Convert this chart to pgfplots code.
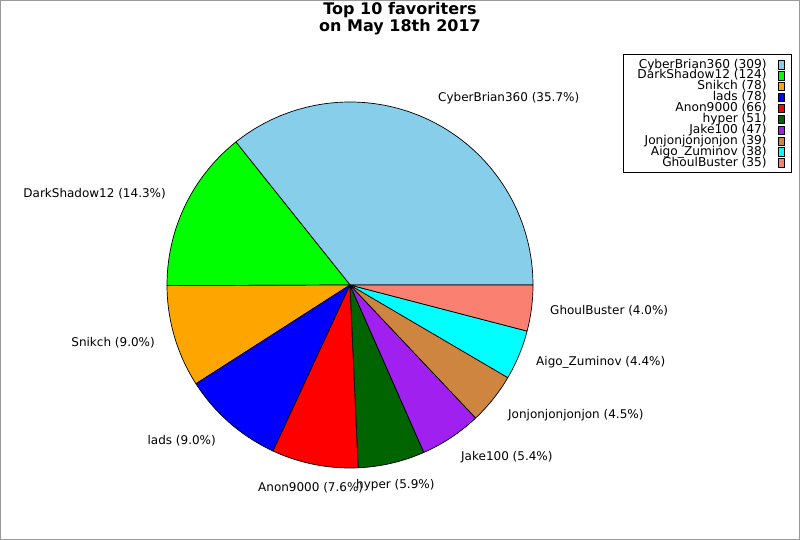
\documentclass[border=0pt]{standalone}
\usepackage{fontspec}
\setmainfont{DejaVu Sans}
\usepackage{pgfplots}
\pgfplotsset{compat=1.18}

\definecolor{cSky}{HTML}{87CEEB}
\definecolor{cLime}{HTML}{00FF00}
\definecolor{cOrange}{HTML}{FFA500}
\definecolor{cBlue}{HTML}{0000FF}
\definecolor{cRed}{HTML}{FF0000}
\definecolor{cDGreen}{HTML}{006400}
\definecolor{cPurple}{HTML}{A020F0}
\definecolor{cPeru}{HTML}{CD853F}
\definecolor{cCyan}{HTML}{00FFFF}
\definecolor{cSalmon}{HTML}{FA8072}

% data (favorites count)
\def\vA{309}\def\vB{124}\def\vC{78}\def\vD{78}\def\vE{66}
\def\vF{51}\def\vG{47}\def\vH{39}\def\vI{38}\def\vJ{35}
\pgfmathsetmacro\total{\vA+\vB+\vC+\vD+\vE+\vF+\vG+\vH+\vI+\vJ}
\pgfmathsetmacro\aA{0}
\pgfmathsetmacro\aB{\aA+\vA/\total*360}
\pgfmathsetmacro\aC{\aB+\vB/\total*360}
\pgfmathsetmacro\aD{\aC+\vC/\total*360}
\pgfmathsetmacro\aE{\aD+\vD/\total*360}
\pgfmathsetmacro\aF{\aE+\vE/\total*360}
\pgfmathsetmacro\aG{\aF+\vF/\total*360}
\pgfmathsetmacro\aH{\aG+\vG/\total*360}
\pgfmathsetmacro\aI{\aH+\vH/\total*360}
\pgfmathsetmacro\aJ{\aI+\vI/\total*360}
\pgfmathsetmacro\aK{360}

\newcommand{\lblfont}{\fontsize{12}{12}\selectfont}
\newcommand{\legfont}{\fontsize{12.2}{12.2}\selectfont}

\begin{document}
\begin{tikzpicture}
\begin{axis}[
  scale only axis, width=800pt, height=540pt,
  xmin=0, xmax=800, ymin=0, ymax=540,
  hide axis, clip=false,
  legend plot pos=right,
  legend cell align=right,
  legend image code/.code={\draw[#1,draw=black,line width=0.6pt] (0pt,-4.2pt) rectangle (6.3pt,4.2pt);},
  legend style={at={(0.99,0.8995)}, anchor=north east, draw=black, line width=0.8pt,
    font=\legfont, inner xsep=7pt, inner ysep=4.6pt,
    /tikz/column sep=11pt, /tikz/row sep=0pt,
    nodes={inner sep=0pt, text height=8.8pt, text depth=2.1pt}},
  every axis plot/.append style={draw=black, line width=0.7pt, samples=90, line join=round},
]
\addplot[fill=cSky, domain=\aA:\aB] ({350+183*cos(x)},{255+183*sin(x)}) -- (axis cs:350,255) -- cycle;
\addlegendentry{\hspace*{8pt}CyberBrian360 (309)}
\addplot[fill=cLime, domain=\aB:\aC] ({350+183*cos(x)},{255+183*sin(x)}) -- (axis cs:350,255) -- cycle;
\addlegendentry{DarkShadow12 (124)}
\addplot[fill=cOrange, domain=\aC:\aD] ({350+183*cos(x)},{255+183*sin(x)}) -- (axis cs:350,255) -- cycle;
\addlegendentry{Snikch (78)}
\addplot[fill=cBlue, domain=\aD:\aE] ({350+183*cos(x)},{255+183*sin(x)}) -- (axis cs:350,255) -- cycle;
\addlegendentry{lads (78)}
\addplot[fill=cRed, domain=\aE:\aF] ({350+183*cos(x)},{255+183*sin(x)}) -- (axis cs:350,255) -- cycle;
\addlegendentry{Anon9000 (66)}
\addplot[fill=cDGreen, domain=\aF:\aG] ({350+183*cos(x)},{255+183*sin(x)}) -- (axis cs:350,255) -- cycle;
\addlegendentry{hyper (51)}
\addplot[fill=cPurple, domain=\aG:\aH] ({350+183*cos(x)},{255+183*sin(x)}) -- (axis cs:350,255) -- cycle;
\addlegendentry{Jake100 (47)}
\addplot[fill=cPeru, domain=\aH:\aI] ({350+183*cos(x)},{255+183*sin(x)}) -- (axis cs:350,255) -- cycle;
\addlegendentry{Jonjonjonjonjon (39)}
\addplot[fill=cCyan, domain=\aI:\aJ] ({350+183*cos(x)},{255+183*sin(x)}) -- (axis cs:350,255) -- cycle;
\addlegendentry{Aigo\_Zuminov (38)}
\addplot[fill=cSalmon, domain=\aJ:\aK] ({350+183*cos(x)},{255+183*sin(x)}) -- (axis cs:350,255) -- cycle;
\addlegendentry{GhoulBuster (35)}

% slice labels
\begin{scope}[every node/.style={inner sep=0pt, font=\lblfont}]
\node[anchor=base west] at (axis cs:438,438.3) {CyberBrian360 (35.7\%)};
\node[anchor=base east] at (axis cs:166,342.9) {DarkShadow12 (14.3\%)};
\node[anchor=base east] at (axis cs:155,193.9) {Snikch (9.0\%)};
\node[anchor=base east] at (axis cs:216,95.6) {lads (9.0\%)};
\node[anchor=base west] at (axis cs:258,48.9) {Anon9000 (7.6\%)};
\node[anchor=base west] at (axis cs:356,51.3) {hyper (5.9\%)};
\node[anchor=base west] at (axis cs:461,79.6) {Jake100 (5.4\%)};
\node[anchor=base west] at (axis cs:508,121.6) {Jonjonjonjonjon (4.5\%)};
\node[anchor=base west] at (axis cs:536,174.6) {Aigo\_Zuminov (4.4\%)};
\node[anchor=base west] at (axis cs:550,225.6) {GhoulBuster (4.0\%)};
\end{scope}

% title
\node[anchor=center, inner sep=0pt, align=center, font=\fontsize{16}{13.5}\selectfont\bfseries] at (axis cs:400,521.45) {Top 10 favoriters\\on May 18th 2017};
\end{axis}
\draw[color=gray!80, line width=1pt] (0.5pt,0.5pt) rectangle (799.5pt,539.5pt);
\pgfresetboundingbox
\path (0pt,0pt) rectangle (800pt,540pt);
\end{tikzpicture}
\end{document}
